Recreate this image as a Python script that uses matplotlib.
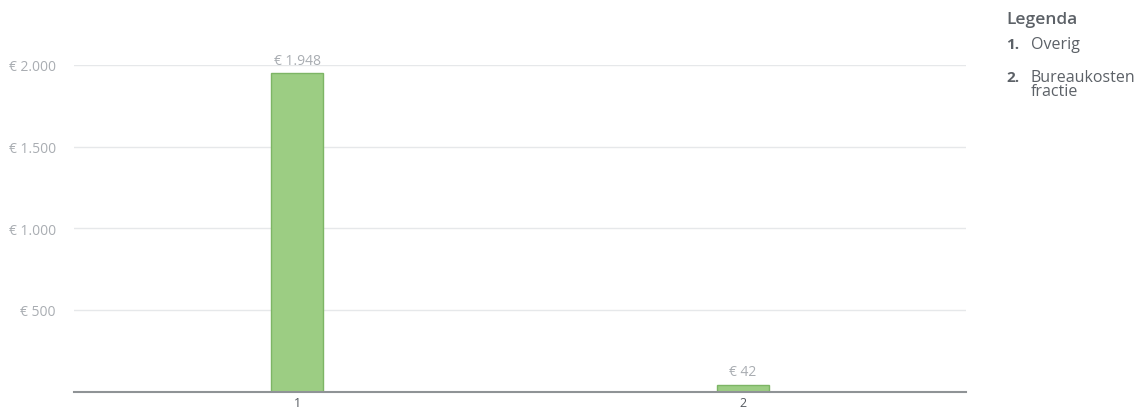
import matplotlib.pyplot as plt
import matplotlib.ticker as mticker

plt.rcParams['font.family'] = ['Open Sans', 'DejaVu Sans']

# data
categories = ['1', '2']
values = [1948, 42]
value_labels = ['€ 1.948', '€ 42']
y_ticks = [500, 1000, 1500, 2000]
legend_nums = ['1.', '2.']
legend_names = ['Overig', 'Bureaukosten\nfractie']

W, H = 1141, 410
fig = plt.figure(figsize=(W / 100, H / 100), dpi=100)
ax = fig.add_axes([74 / W, (H - 392.5) / H, (966 - 74) / W, (392.5 - 66) / H])

x = range(len(categories))
bars = ax.bar(x, values, width=0.117, color='#9ccd83', edgecolor='#7db565',
              linewidth=1, zorder=3)

for b, lab in zip(bars, value_labels):
    ax.text(b.get_x() + b.get_width() / 2, b.get_height() + 35, lab,
            ha='center', va='bottom', fontsize=10, color='#a9adb2',
            clip_on=False)

ax.set_xlim(-0.5, 1.5)
ax.set_ylim(0, 2000)
ax.set_xticks(list(x))
ax.set_xticklabels(categories)
ax.set_yticks(y_ticks)
ax.yaxis.set_major_formatter(
    mticker.FuncFormatter(lambda v, p: '€ ' + f'{int(v):,}'.replace(',', '.')))

ax.grid(axis='y', color='#e6e8ea', linewidth=1, zorder=0)
ax.tick_params(axis='y', length=0, pad=13, labelsize=10, labelcolor='#a9adb2')
ax.tick_params(axis='x', length=0, pad=3, labelsize=9, labelcolor='#555a60')
for s in ['top', 'right', 'left']:
    ax.spines[s].set_visible(False)
ax.spines['bottom'].set_color('#8f9396')
ax.spines['bottom'].set_linewidth(1.5)
ax.spines['bottom'].set_zorder(4)

# legend on the right
fig.text(1006 / W, 1 - 20 / H, 'Legenda', fontsize=12.5, fontweight='semibold',
         color='#5c6167', va='center', ha='left')
legend_y = [45, 78]
for num, name, yy in zip(legend_nums, legend_names, legend_y):
    fig.text(1006 / W, 1 - yy / H, num, fontsize=11, fontweight='bold',
             color='#5c6167', va='center', ha='left')
    fig.text(1031 / W, 1 - (yy - 8) / H, name, fontsize=11.5, color='#5c6167',
             va='top', ha='left', linespacing=0.8)

fig.savefig('out.png', dpi=100)
